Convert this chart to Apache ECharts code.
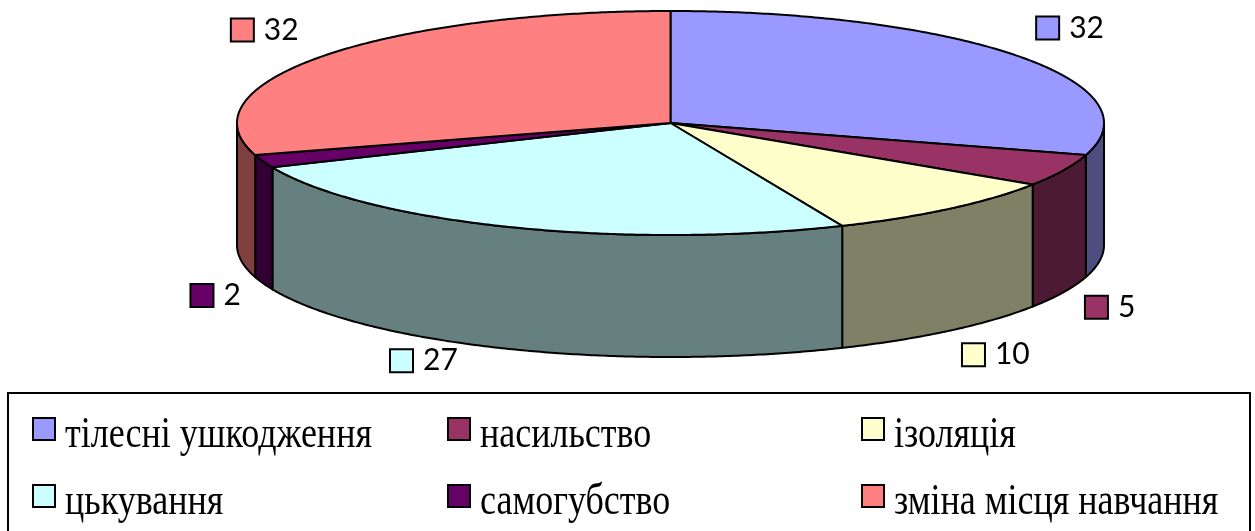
<!DOCTYPE html>
<html>
<head>
<meta charset="utf-8">
<script src="https://cdn.jsdelivr.net/npm/echarts@6/dist/echarts.min.js"></script>
<style>
  html, body { margin: 0; padding: 0; background: #fff; }
  #chart { width: 1255px; height: 531px; }
  .preload { position: absolute; left: -9999px; top: 0; font: 36px "Liberation Serif"; }
</style>
</head>
<body>
<div id="chart"></div>
<span class="preload">тілесні ушкодження</span>
<script>
// data
var categories = ['тілесні ушкодження', 'насильство', 'ізоляція', 'цькування', 'самогубство', 'зміна місця навчання'];
var values = [32, 5, 10, 27, 2, 32];
var topColors = ['#9999FF', '#993366', '#FFFFCC', '#CCFFFF', '#660066', '#FF8080'];
var sideColors = ['#4D4D80', '#4D1A33', '#808066', '#668080', '#330033', '#804040'];

// layout of the 3d pie
var CX = 670.5, CY = 123, RX = 433.5, RY = 112, DEPTH = 122;
var LRX = 497, LRY = 159;
// small label nudges (excel places 3d labels a bit irregularly)
var labelNudge = [[-5, 0], [-8, -5], [0, -12], [-69, -32], [15, -4], [-13, 2]];

var total = values.reduce(function (a, b) { return a + b; }, 0);
var starts = [];
var acc = 0;
values.forEach(function (v) { starts.push(acc); acc += v; });

function pt(t, dy) {
  return [CX + RX * Math.sin(t), CY - RY * Math.cos(t) + (dy || 0)];
}
function arc(a0, a1, dy) {
  var n = Math.max(2, Math.ceil(Math.abs(a1 - a0) * 180 / Math.PI * 2));
  var pts = [];
  for (var k = 0; k <= n; k++) pts.push(pt(a0 + (a1 - a0) * k / n, dy));
  return pts;
}

function renderPie(params, api) {
  var i = params.dataIndex;
  var v = api.value(0);
  var a0 = starts[i] / total * Math.PI * 2;
  var a1 = (starts[i] + v) / total * Math.PI * 2;
  var children = [];
  var line = { stroke: '#000', lineWidth: 2, lineJoin: 'round' };

  // side wall (front half only)
  var s = Math.max(a0, Math.PI / 2), e = Math.min(a1, Math.PI * 1.5);
  if (s < e) {
    var side = arc(s, e, 0).concat(arc(e, s, DEPTH));
    children.push({ type: 'polygon', z2: 1, shape: { points: side },
      style: Object.assign({ fill: sideColors[i] }, line) });
  }
  // top face
  var top = [[CX, CY]].concat(arc(a0, a1, 0));
  children.push({ type: 'polygon', z2: 2, shape: { points: top },
    style: Object.assign({ fill: topColors[i] }, line) });

  // label with legend key
  var mid = (a0 + a1) / 2;
  var lx = CX + LRX * Math.sin(mid) + labelNudge[i][0];
  var ly = CY - LRY * Math.cos(mid) + (Math.cos(mid) < 0 ? DEPTH : 0) + labelNudge[i][1];
  children.push({ type: 'rect', z2: 3, shape: { x: lx - 28, y: ly - 11.5, width: 23, height: 23 },
    style: { fill: topColors[i], stroke: '#000', lineWidth: 2 } });
  children.push({ type: 'text', z2: 3, x: lx + 5, y: ly,
    style: { text: String(v), fontSize: 30, fontFamily: 'Lato', fill: '#000', align: 'left', verticalAlign: 'middle' } });

  return { type: 'group', children: children };
}

// legend: serif text with tall glyphs as in the original
var legendCols = [33, 448, 862];
var legendRows = [429, 496];

function renderLegend(params, api) {
  var i = params.dataIndex;
  var cx = legendCols[i % 3], cy = legendRows[Math.floor(i / 3)];
  var children = [];
  if (i === 0) {
    children.push({ type: 'rect', z2: 0, shape: { x: 8, y: 393, width: 1242, height: 150 },
      style: { fill: '#fff', stroke: '#000', lineWidth: 2 } });
  }
  children.push({ type: 'rect', z2: 1, shape: { x: cx, y: cy - 11, width: 22, height: 22 },
    style: { fill: topColors[i], stroke: '#000', lineWidth: 2 } });
  children.push({ type: 'text', z2: 1, x: cx + 32, y: cy + 6.5, scaleY: 1.25,
    style: { text: categories[i], fontSize: 36, fontFamily: '"Liberation Serif", serif', fill: '#000', align: 'left', verticalAlign: 'middle' } });
  return { type: 'group', children: children };
}

function draw() {
  var chart = echarts.init(document.getElementById('chart'));
  chart.setOption({
    backgroundColor: '#fff',
    animation: false,
    series: [{
      type: 'custom',
      coordinateSystem: 'none',
      silent: true,
      data: values,
      renderItem: renderPie
    }, {
      type: 'custom',
      coordinateSystem: 'none',
      silent: true,
      z: 5,
      data: categories.map(function (c, i) { return i; }),
      renderItem: renderLegend
    }]
  });
}

// make sure the serif face is ready before the canvas draws with it
if (document.fonts && document.fonts.load) {
  Promise.all([
    document.fonts.load('36px "Liberation Serif"', 'тілесні'),
    document.fonts.load('30px Lato', '32')
  ]).then(draw, draw);
} else {
  draw();
}
</script>
</body>
</html>
